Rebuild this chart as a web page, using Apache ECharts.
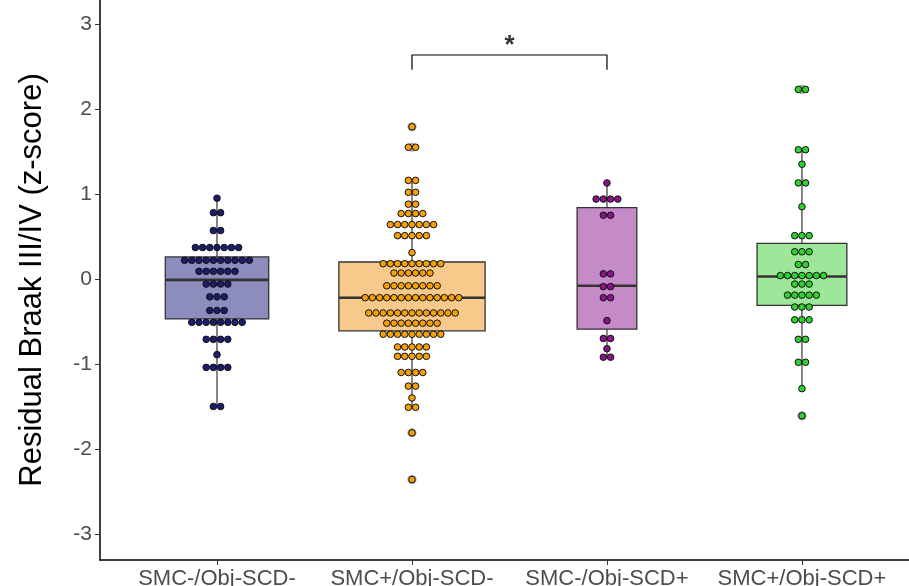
<!DOCTYPE html>
<html><head><meta charset="utf-8">
<script src="https://cdn.jsdelivr.net/npm/echarts@6/dist/echarts.min.js"></script>
<style>html,body{margin:0;padding:0;background:#fff;overflow:hidden}#c{width:909px;height:586px}</style>
</head><body><div id="c"></div>
<script>
var categories = ['SMC-/Obj-SCD-', 'SMC+/Obj-SCD-', 'SMC-/Obj-SCD+', 'SMC+/Obj-SCD+'];
var yTicks = [-3, -2, -1, 0, 1, 2, 3];

// individual observations (one entry per dot, binned values as drawn)
var g1 = [0.95, 0.78,0.78, 0.57,0.57, 0.37,0.37,0.37,0.37,0.37,0.37,0.37,
  0.22,0.22,0.22,0.22,0.22,0.22,0.22,0.22,0.22,0.22, 0.09,0.09,0.09,0.09,0.09,0.09,
  -0.06,-0.06,-0.06,-0.06, -0.21,-0.21,-0.21, -0.37,-0.37,-0.37,
  -0.51,-0.51,-0.51,-0.51,-0.51,-0.51,-0.51,-0.51, -0.71,-0.71,-0.71,-0.71, -0.89,
  -1.04,-1.04,-1.04,-1.04, -1.50,-1.50];
var g2 = [1.79, 1.55,1.55, 1.16,1.16, 1.02,1.02, 0.88,0.88, 0.77,0.77,0.77,0.77,
  0.64,0.64,0.64,0.64,0.64,0.64,0.64, 0.51,0.51,0.51,0.51,0.51, 0.31,
  0.18,0.18,0.18,0.18,0.18,0.18,0.18,0.18,0.18, 0.07,0.07,0.07,0.07,0.07,0.07,
  -0.08,-0.08,-0.08,-0.08,-0.08,-0.08,-0.08,-0.08,
  -0.22,-0.22,-0.22,-0.22,-0.22,-0.22,-0.22,-0.22,-0.22,-0.22,-0.22,-0.22,-0.22,-0.22,
  -0.40,-0.40,-0.40,-0.40,-0.40,-0.40,-0.40,-0.40,-0.40,-0.40,-0.40,-0.40,-0.40,
  -0.52,-0.52,-0.52,-0.52,-0.52,-0.52,-0.52,-0.52,
  -0.65,-0.65,-0.65,-0.65,-0.65,-0.65,-0.65,-0.65,-0.65,
  -0.80,-0.80,-0.80,-0.80,-0.80, -0.91,-0.91,-0.91,-0.91,-0.91,
  -1.10,-1.10,-1.10,-1.10, -1.26,-1.26, -1.40, -1.51,-1.51, -1.81, -2.36];
var g3 = [1.13, 0.94,0.94,0.94,0.94, 0.75,0.75, 0.06,0.06, -0.09,-0.09, -0.22,-0.22,
  -0.49, -0.70,-0.70, -0.82, -0.92,-0.92];
var g4 = [2.23,2.23, 1.52,1.52, 1.35, 1.13,1.13, 0.85, 0.51,0.51,0.51, 0.32,0.32,0.32,
  0.17,0.17, 0.04,0.04,0.04,0.04,0.04,0.04,0.04, -0.06,-0.06,-0.06,
  -0.19,-0.19,-0.19,-0.19,-0.19, -0.33,-0.33,-0.33, -0.48,-0.48,-0.48,
  -0.71,-0.71, -0.98,-0.98, -1.29, -1.61];

// box statistics
var q1s      = [-0.47, -0.61, -0.59, -0.31];
var medians  = [-0.01, -0.22, -0.08,  0.03];
var q3s      = [ 0.26,  0.20,  0.84,  0.42];
var whiskLo  = [-1.50, -1.51, -0.92, -1.29];
var whiskHi  = [ 0.95,  1.16,  1.13,  1.52];
var outliers2 = [1.79, 1.55, -1.81, -2.36];
var outliers4 = [2.23, -1.61];

// significance bracket
var bracketFrom = 2, bracketTo = 3, bracketTop = 2.635, bracketDrop = 2.46, sigLabel = '*';

var groups = [g1, g2, g3, g4];
var outlierGroups = [[], outliers2, [], outliers4];
var dotColors = ['#1c1c6e', '#f5a00a', '#8a138a', '#2fd12f'];
var boxColors = ['#8d8dbd', '#f7c98a', '#c58ac8', '#9ee69a'];
var DOT = 7.2;

var nMax = Math.max.apply(null, groups.map(function(g){return g.length;}));

function dotData(vals, cat) {
  var counts = {}, seen = {}, out = [];
  vals.forEach(function(v){ counts[v] = (counts[v] || 0) + 1; });
  vals.forEach(function(v){
    seen[v] = (seen[v] || 0);
    out.push([cat, v, seen[v], counts[v]]);
    seen[v]++;
  });
  return out;
}

var boxData = categories.map(function(c, i){
  return [i + 1, q1s[i], medians[i], q3s[i], whiskLo[i], whiskHi[i], groups[i].length];
});

function renderBox(params, api) {
  var x = api.value(0);
  var band = api.size([1, 0])[0];
  var half = 0.75 * Math.sqrt(api.value(6) / nMax) * band / 2;
  var pq1 = api.coord([x, api.value(1)]);
  var pm = api.coord([x, api.value(2)]);
  var pq3 = api.coord([x, api.value(3)]);
  var plo = api.coord([x, api.value(4)]);
  var phi = api.coord([x, api.value(5)]);
  var cx = pq1[0];
  var stroke = '#333333';
  return {
    type: 'group',
    children: [
      {type: 'line', shape: {x1: cx, y1: phi[1], x2: cx, y2: pq3[1]}, style: {stroke: stroke, lineWidth: 1.2}},
      {type: 'line', shape: {x1: cx, y1: pq1[1], x2: cx, y2: plo[1]}, style: {stroke: stroke, lineWidth: 1.2}},
      {type: 'rect', shape: {x: cx - half, y: pq3[1], width: 2 * half, height: pq1[1] - pq3[1]},
        style: {fill: boxColors[params.dataIndex], stroke: stroke, lineWidth: 1.3}},
      {type: 'line', shape: {x1: cx - half, y1: pm[1], x2: cx + half, y2: pm[1]}, style: {stroke: stroke, lineWidth: 2.6}}
    ]
  };
}

function makeDotRenderer(color) {
  return function(params, api) {
    var p = api.coord([api.value(0), api.value(1)]);
    var off = (api.value(2) - (api.value(3) - 1) / 2) * DOT;
    return {type: 'circle', shape: {cx: p[0] + off, cy: p[1], r: DOT / 2 - 0.3},
      style: {fill: color, stroke: '#111', lineWidth: 1}};
  };
}

var outlierData = [];
outlierGroups.forEach(function(g, i){ g.forEach(function(v){ outlierData.push([i + 1, v]); }); });

function renderOutlier(params, api) {
  var p = api.coord([api.value(0), api.value(1)]);
  return {type: 'circle', shape: {cx: p[0], cy: p[1], r: 4.6}, style: {fill: '#a8a8a8'}};
}

var series = [
  {type: 'custom', renderItem: renderBox, data: boxData, silent: true, z: 2},
  {type: 'custom', renderItem: renderOutlier, data: outlierData, silent: true, z: 3}
];
groups.forEach(function(g, i){
  series.push({type: 'custom', renderItem: makeDotRenderer(dotColors[i]), data: dotData(g, i + 1), silent: true, z: 4});
});
series.push({type: 'line', data: [[bracketFrom, bracketDrop], [bracketFrom, bracketTop], [bracketTo, bracketTop], [bracketTo, bracketDrop]],
  symbol: 'none', lineStyle: {color: '#000', width: 1.2}, silent: true, z: 5});
series.push({type: 'scatter', data: [[(bracketFrom + bracketTo) / 2, bracketTop]], symbolSize: 0, silent: true, z: 5,
  label: {show: true, position: 'top', distance: -4, formatter: sigLabel, fontSize: 26, fontWeight: 'bold',
    color: '#000', fontFamily: 'Liberation Sans'}});

var chart = echarts.init(document.getElementById('c'), null, {renderer: 'canvas'});
chart.setOption({
  animation: false,
  backgroundColor: '#fff',
  grid: {left: 100, top: 0, right: 0, bottom: 26, containLabel: false, outerBoundsMode: 'none'},
  xAxis: {
    type: 'value', min: 0.4, max: 4.549,
    splitLine: {show: false},
    axisLine: {show: true, onZero: false, lineStyle: {color: '#000', width: 1.5}},
    axisTick: {show: true, length: 5, customValues: [1, 2, 3, 4], lineStyle: {color: '#333'}},
    axisLabel: {customValues: [1, 2, 3, 4], margin: 8, fontSize: 22, color: '#4d4d4d',
      fontFamily: 'Liberation Sans', formatter: function(v){ return categories[Math.round(v) - 1]; }}
  },
  yAxis: {
    type: 'value', min: -3.306, max: 3.282,
    name: 'Residual Braak III/IV (z-score)', nameLocation: 'middle', nameGap: 52,
    nameTextStyle: {fontSize: 31, color: '#000', fontFamily: 'Liberation Sans'},
    splitLine: {show: false},
    axisLine: {show: true, onZero: false, lineStyle: {color: '#000', width: 1.5}},
    axisTick: {show: true, length: 5, customValues: yTicks, lineStyle: {color: '#333'}},
    axisLabel: {customValues: yTicks, margin: 8, fontSize: 21, color: '#4d4d4d', fontFamily: 'Liberation Sans'}
  },
  series: series
});
</script>
</body></html>
